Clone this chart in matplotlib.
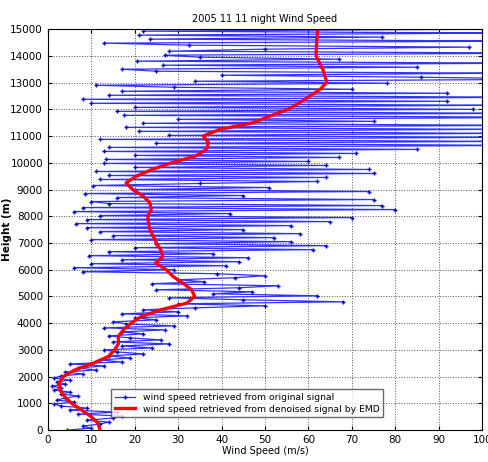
import numpy as np
import matplotlib
matplotlib.use("Agg")
import matplotlib.pyplot as plt

# range gates of the retrieval, every 75 m from ground to 15 km
height = np.arange(0, 15001, 75)

# wind speed retrieved from the raw lidar signal (m/s), bottom to top
ws_raw = [
    # 0 - 1950 m
    4.5, 10, 8, 12, 14, 9, 15, 17, 7, 16, 5, 9, 3, 1.5, 6, 2, 4, 7, 3, 5,
    1.5, 3, 1, 4, 2, 5, 1.5,
    # 2025 - 2925 m
    3, 8, 4, 11, 7, 13, 5, 17, 12, 19, 14, 22, 16,
    # 3000 - 4500 m
    13, 24, 17, 28, 15, 26, 19, 14, 22, 17, 27, 13, 29, 18, 15, 25, 20, 32,
    17, 30, 22,
    # 4575 - 5700 m
    34, 50, 30, 68, 45, 28, 62, 38, 47, 25, 44, 53, 24, 36, 30, 43,
    # 5775 - 7050 m
    50, 39, 8, 29, 6, 41, 10, 44, 17, 46, 9.5, 38, 14, 61, 20, 64, 25, 56,
    # 7125 - 8475 m
    10, 52, 15, 58, 12, 45, 9, 56, 6.5, 65, 9, 70, 12, 42, 6, 80, 8, 77, 14,
    # 8550 - 9225 m
    10, 75, 16, 45, 8.5, 74, 20, 51, 10.5, 35,
    # 9300 - 10050 m
    62, 12, 64, 14, 75, 11, 74, 20, 64, 13, 60,
    # 10125 - 11025 m
    13.5, 67, 20, 71, 13, 85, 14, 110, 25, 105, 12, 104, 28,
    # 11100 - 12000 m
    105, 21, 102, 18, 110, 22, 75, 30, 120, 17.5, 108, 16, 98,
    # 12075 - 13125 m
    20, 104, 10, 92, 8, 115, 14, 92, 17, 70, 29, 11, 78, 34, 120,
    # 13200 - 14100 m
    86, 40, 103, 25, 17, 85, 26.5, 110, 20.5, 67, 35, 27, 115,
    # 14175 - 15000 m
    28, 50, 97, 32.5, 13, 110, 23.5, 77, 21, 104, 22, 108,
]

# EMD denoised profile, every 250 m
height_emd = np.arange(0, 15001, 250)
ws_emd = [
    12, 11.6, 10, 7.8, 5.5, 3.9, 2.8, 2.6, 3.5, 6.2,
    10.4, 13.9, 15.4, 16.3, 16.2, 17.4, 19.2, 21.5, 26, 32,
    33.8, 33.1, 31.1, 28.8, 27.3, 24.8, 26.5, 26, 25, 24.3,
    23.5, 23.2, 23, 23.8, 23.5, 22, 19.5, 18, 20.4, 24,
    28.5, 34, 36.5, 37, 35.8, 39.6, 47.3, 51.2, 55.3, 58,
    60.4, 62.7, 64.2, 63.8, 63.3, 62.5, 61.8, 61.8, 61.9, 62,
    62.2,
]

fig = plt.figure(figsize=(4.88, 4.62), dpi=100)
ax = fig.add_axes([0.098, 0.069, 0.89, 0.868])

ax.plot(ws_raw, height, '-', color='#3030ff', lw=0.9, marker='+',
        markersize=3.5, markeredgecolor='#0000c8', markeredgewidth=1.0,
        label='wind speed retrieved from original signal')
ax.plot(ws_emd, height_emd, '-', color='#ff0000', lw=2.4,
        label='wind speed retrieved from denoised signal by EMD')

ax.set_xlim(0, 100)
ax.set_ylim(0, 15000)
ax.set_xticks(np.arange(0, 101, 10))
ax.set_yticks(np.arange(0, 15001, 1000))
ax.grid(True, linestyle=':', color='#555555', lw=0.7)
ax.tick_params(direction='in', top=True, right=True, labelsize=7.5, length=3)

ax.set_title('2005 11 11 night Wind Speed', fontsize=7, pad=5)
ax.set_xlabel('Wind Speed (m/s)', fontsize=7, labelpad=1)
ax.set_ylabel('Height (m)', fontsize=7.5, fontweight='bold')
ax.yaxis.set_label_coords(-0.082, 0.5)

ax.legend(loc='lower left', bbox_to_anchor=(0.135, 0.02), fontsize=6.7,
          frameon=True, fancybox=False, edgecolor='#444444',
          handlelength=2.2, borderpad=0.4, labelspacing=0.3)

fig.savefig('out.png', dpi=100)
